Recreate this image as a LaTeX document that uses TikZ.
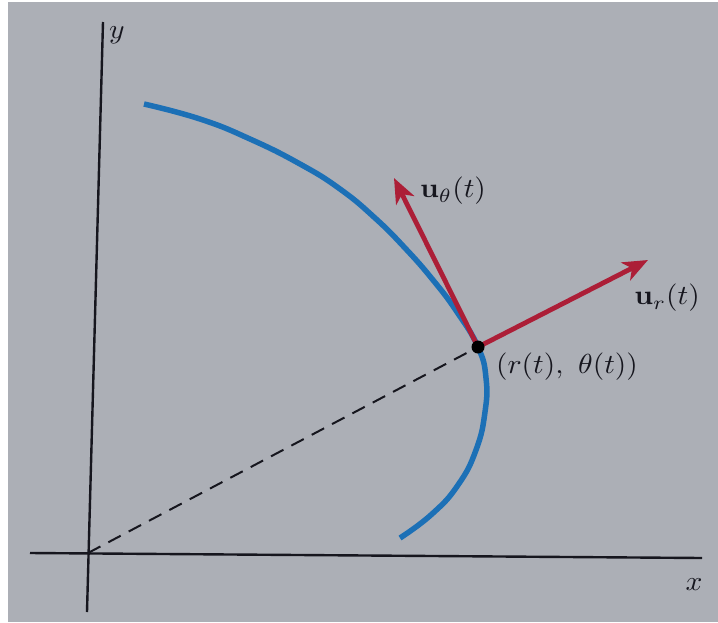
\documentclass[tikz,border=0pt]{standalone}
\usepackage{graphicx}
\usetikzlibrary{arrows.meta}
\definecolor{bg}{RGB}{172,175,182}
\definecolor{curveblue}{RGB}{28,112,182}
\definecolor{vecred}{RGB}{172,30,55}
\definecolor{ink}{RGB}{22,22,30}
\newcommand{\bigtxt}[1]{\scalebox{2.95}[2.75]{#1}}
\tikzset{
  axis/.style={draw=ink, line width=2.4pt},
  curve/.style={draw=curveblue, line width=5.5pt, line cap=butt},
  vec/.style={draw=vecred, line width=4.8pt, -{Stealth[length=25pt,width=20pt,inset=7pt]}},
  lbl/.style={text=ink, inner sep=0pt},
  radial/.style={draw=ink, line width=2pt, dash pattern=on 14pt off 9pt}
}
\begin{document}
\begin{tikzpicture}[x=1pt,y=-1pt]
\useasboundingbox (0,0) rectangle (718,622);
\fill[white] (0,0) rectangle (718,622);
\fill[bg] (8,2) rectangle (718,622);
% axes
\coordinate (o) at (88,553);
\coordinate (ytop) at (103,22);
\coordinate (ybot) at (87,612);
\coordinate (xl) at (30,553);
\coordinate (xr) at (702,558);
\draw[axis] (ybot) -- (ytop);
\draw[axis] (xl) -- (xr);
\node[lbl] (ylab) at (117,35) {\bigtxt{$y$}};
\node[lbl] (xlab) at (694,585) {\bigtxt{$x$}};
% point
\coordinate (p) at (478,347);
% radial dashed line
\draw[radial] (o) -- (p);
% curve
\draw[curve] plot[smooth, tension=0.8] coordinates {(144,104) (200,119) (250,139) (300,164) (340,189) (375,218) (405,248) (433,280) (457,312) (478,347) (486,378) (485,412) (476,450) (458,485) (432,514) (400,538)};
% unit vectors
\coordinate (ur) at (648,260);
\coordinate (ut) at (394,178);
\draw[vec] (p) -- (ur);
\draw[vec] (p) -- (ut);
\fill[black] (p) circle (6.5pt);
\node[lbl] (utlab) at (453,191) {\bigtxt{$\mathbf{u}_\theta(t)$}};
\node[lbl] (urlab) at (667,298) {\bigtxt{$\mathbf{u}_r(t)$}};
\node[lbl] (plab) at (567,367) {\bigtxt{$(r(t),\ \theta(t))$}};
\end{tikzpicture}
\end{document}
